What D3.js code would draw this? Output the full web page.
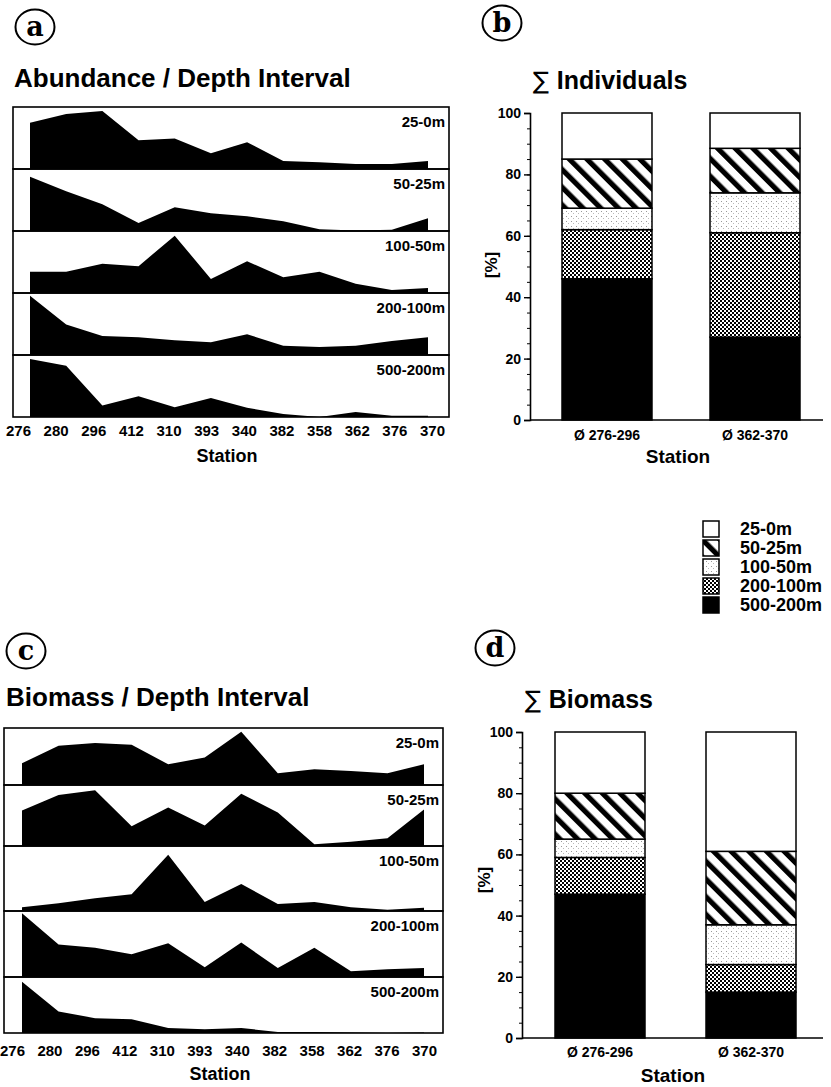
<!DOCTYPE html>
<html><head><meta charset="utf-8">
<script src="https://cdn.jsdelivr.net/npm/d3@7"></script>
<style>
body{margin:0;background:#fff}
svg{display:block}
text{font-family:"Liberation Sans",Arial,Helvetica,sans-serif;fill:#000}
</style>
</head><body>
<svg id="chart" width="831" height="1087"></svg>
<script>
// ---------------- DATA ----------------
const stations = ["276","280","296","412","310","393","340","382","358","362","376","370"];
const depths = ["25-0m","50-25m","100-50m","200-100m","500-200m"];

// Abundance per depth interval (relative, % of band maximum)
const abund_25_0    = [76,90,95,47,50,26,44,13,11,8,8,13];
const abund_50_25   = [89,65,44,13,39,29,24,16,3,1,2,21];
const abund_100_50  = [35,35,48,44,94,23,52,26,35,15,5,8];
const abund_200_100 = [97,50,31,29,24,21,34,15,13,15,23,29];
const abund_500_200 = [95,84,19,34,16,31,15,5,0,8,2,2];

// Biomass per depth interval (relative, % of band maximum)
const bio_25_0    = [39,70,75,72,37,49,95,21,28,25,21,37];
const bio_50_25   = [59,85,93,33,64,34,87,56,3,7,13,61];
const bio_100_50  = [6,12,20,26,88,14,42,11,14,6,2,5];
const bio_200_100 = [98,50,45,35,52,15,53,14,45,9,12,14];
const bio_500_200 = [93,39,27,25,9,7,9,2,2,1,0,1];

// Stacked percentages (order: 25-0m, 50-25m, 100-50m, 200-100m, 500-200m)
const groups = ["Ø 276-296","Ø 362-370"];
const indiv_276_296 = [15,16,7,16,46];
const indiv_362_370 = [11.5,14.5,13,34,27];
const biom_276_296  = [20,15,6,12,47];
const biom_362_370  = [39,24,13,9,15];
const pctTicks = [0,20,40,60,80,100];

// ---------------- DRAW ----------------
const svg = d3.select("#chart");
const defs = svg.append("defs");

// patterns
const pStripe = defs.append("pattern").attr("id","pStripe").attr("patternUnits","userSpaceOnUse")
  .attr("width",12.5).attr("height",12.5).attr("patternTransform","rotate(-45)");
pStripe.append("rect").attr("width",12.5).attr("height",12.5).attr("fill","#fff");
pStripe.append("rect").attr("width",5.2).attr("height",12.5).attr("fill","#000");

const pDot = defs.append("pattern").attr("id","pDot").attr("patternUnits","userSpaceOnUse")
  .attr("width",5).attr("height",5);
pDot.append("rect").attr("width",5).attr("height",5).attr("fill","#fff");
pDot.append("rect").attr("x",1).attr("y",1).attr("width",1).attr("height",1).attr("fill","#999");
pDot.append("rect").attr("x",3).attr("y",3).attr("width",1).attr("height",1).attr("fill","#bbb");

const pCheck = defs.append("pattern").attr("id","pCheck").attr("patternUnits","userSpaceOnUse")
  .attr("width",4).attr("height",4);
pCheck.append("rect").attr("width",4).attr("height",4).attr("fill","#fff");
pCheck.append("rect").attr("width",2).attr("height",2).attr("fill","#000");
pCheck.append("rect").attr("x",2).attr("y",2).attr("width",2).attr("height",2).attr("fill","#000");

const fills = {"25-0m":"#fff","50-25m":"url(#pStripe)","100-50m":"url(#pDot)","200-100m":"url(#pCheck)","500-200m":"#000"};

function circled(cx, cy, letter){
  svg.append("ellipse").attr("cx",cx).attr("cy",cy).attr("rx",19.5).attr("ry",17.5)
    .attr("fill","none").attr("stroke","#000").attr("stroke-width",2);
  svg.append("text").attr("x",cx).attr("y",cy+9).attr("text-anchor","middle")
    .style("font-family","'DejaVu Serif',serif").style("font-weight","bold").style("font-size","27px")
    .text(letter);
}

function areaPanel(opt){
  const {series, left, right, edges, dataRange, labelRange, title, titleX, titleY, tickY, stationY, stationX} = opt;
  svg.append("text").attr("x",titleX).attr("y",titleY).style("font-weight","bold").style("font-size","26px").text(title);
  const x = d3.scalePoint().domain(stations).range(dataRange);
  series.forEach((vals,i)=>{
    const top = edges[i], bot = edges[i+1];
    const y = d3.scaleLinear().domain([0,100]).range([bot,top+1]);
    const area = d3.area().x((d,j)=>x(stations[j])).y0(bot).y1(d=>y(d));
    svg.append("path").datum(vals).attr("d",area).attr("fill","#000");
    svg.append("rect").attr("x",left).attr("y",top).attr("width",right-left).attr("height",bot-top)
      .attr("fill","none").attr("stroke","#000").attr("stroke-width",1.6);
    svg.append("text").attr("x",right-4).attr("y",top+20).attr("text-anchor","end")
      .style("font-weight","bold").style("font-size","15px").text(depths[i]);
  });
  const xl = d3.scalePoint().domain(stations).range(labelRange);
  const ax = svg.append("g").attr("transform",`translate(0,${tickY})`)
    .call(d3.axisBottom(xl).tickSize(0).tickPadding(0));
  ax.select(".domain").remove();
  ax.selectAll("text").style("font-family","'Liberation Sans',Arial,sans-serif").style("font-weight","bold").style("font-size","15px").attr("dy","0");
  svg.append("text").attr("x",stationX).attr("y",stationY).attr("text-anchor","middle")
    .style("font-weight","bold").style("font-size","18px").text("Station");
}

function barPanel(opt){
  const {data, axisX, y0, y100, xEnd, barRange, padInner, title, titleX, titleY, pctX, pctY, labY, stationX, stationY} = opt;
  const y = d3.scaleLinear().domain([0,100]).range([y0,y100]);
  const x = d3.scaleBand().domain(groups).range(barRange).paddingInner(padInner).paddingOuter(0);
  const t = svg.append("text").attr("x",titleX).attr("y",titleY).style("font-size","25px");
  t.append("tspan").style("font-weight","normal").style("font-family","'DejaVu Sans',sans-serif").style("font-size","24px").text("∑ ");
  t.append("tspan").style("font-weight","bold").text(title);
  // stacks
  const rows = groups.map((g,gi)=>{const r={group:g}; depths.forEach((d,di)=>r[d]=data[gi][di]); return r;});
  const keys = depths.slice().reverse();
  const stack = d3.stack().keys(keys)(rows);
  stack.forEach(layer=>{
    svg.append("g").selectAll("rect").data(layer).join("rect")
      .attr("x",d=>x(d.data.group)).attr("width",x.bandwidth())
      .attr("y",d=>y(d[1])).attr("height",d=>y(d[0])-y(d[1]))
      .attr("fill",fills[layer.key]).attr("stroke","#000").attr("stroke-width",1.5);
  });
  // y axis
  const minor = svg.append("g").attr("transform",`translate(${axisX},0)`)
    .call(d3.axisLeft(y).tickValues(d3.range(0,101,5)).tickSize(3).tickFormat(""));
  minor.select(".domain").remove();
  const ay = svg.append("g").attr("transform",`translate(${axisX},0)`)
    .call(d3.axisLeft(y).tickValues(pctTicks).tickSize(6).tickPadding(3));
  ay.select(".domain").attr("stroke-width",1.6);
  ay.selectAll("line").attr("stroke-width",1.4);
  ay.selectAll("text").style("font-family","'Liberation Sans',Arial,sans-serif").style("font-weight","bold").style("font-size","14px");
  svg.append("line").attr("x1",axisX).attr("x2",xEnd).attr("y1",y0).attr("y2",y0).attr("stroke","#000").attr("stroke-width",1.6);
  const ax = svg.append("g").attr("transform",`translate(0,${labY})`).call(d3.axisBottom(x).tickSize(0).tickPadding(0));
  ax.select(".domain").remove();
  ax.selectAll("text").style("font-family","'Liberation Sans',Arial,sans-serif").style("font-weight","bold").style("font-size","14px").attr("dy","0");
  svg.append("text").attr("transform",`translate(${pctX},${pctY}) rotate(-90)`).attr("text-anchor","middle")
    .style("font-weight","bold").style("font-size","17px").text("[%]");
  svg.append("text").attr("x",stationX).attr("y",stationY).attr("text-anchor","middle")
    .style("font-weight","bold").style("font-size","19px").text("Station");
}

// Panel a
circled(35,27,"a");
areaPanel({series:[abund_25_0,abund_50_25,abund_100_50,abund_200_100,abund_500_200],
  left:13,right:449,edges:[107,169,231,293,355,417],dataRange:[30,428],labelRange:[18,432],
  title:"Abundance / Depth Interval",titleX:14,titleY:87,tickY:436,stationY:462,stationX:227});

// Panel c
circled(26,651,"c");
areaPanel({series:[bio_25_0,bio_50_25,bio_100_50,bio_200_100,bio_500_200],
  left:4,right:443,edges:[728,785,846,911,977,1033],dataRange:[22,424],labelRange:[12,424],
  title:"Biomass / Depth Interval",titleX:6,titleY:706,tickY:1056,stationY:1080,stationX:220});

// Panel b
circled(502,23,"b");
barPanel({data:[indiv_276_296,indiv_362_370],axisX:530,y0:420,y100:113,xEnd:823,barRange:[562,800],padInner:0.392,
  title:"Individuals",titleX:533,titleY:89,pctX:497,pctY:265,labY:440,stationX:678,stationY:463});

// Panel d
circled(495,648,"d");
barPanel({data:[biom_276_296,biom_362_370],axisX:522,y0:1038,y100:732,xEnd:823,barRange:[555,796],padInner:0.404,
  title:"Biomass",titleX:525,titleY:708,pctX:490,pctY:880,labY:1057,stationX:673,stationY:1082});

// Legend
const lg = svg.append("g");
depths.forEach((d,i)=>{
  const yy = 521 + i*19;
  lg.append("rect").attr("x",703).attr("y",yy).attr("width",16).attr("height",16)
    .attr("fill",fills[d]).attr("stroke","#000").attr("stroke-width",1.5);
  lg.append("text").attr("x",740).attr("y",yy+14).style("font-weight","bold").style("font-size","18px").text(d);
});
</script>
</body></html>
